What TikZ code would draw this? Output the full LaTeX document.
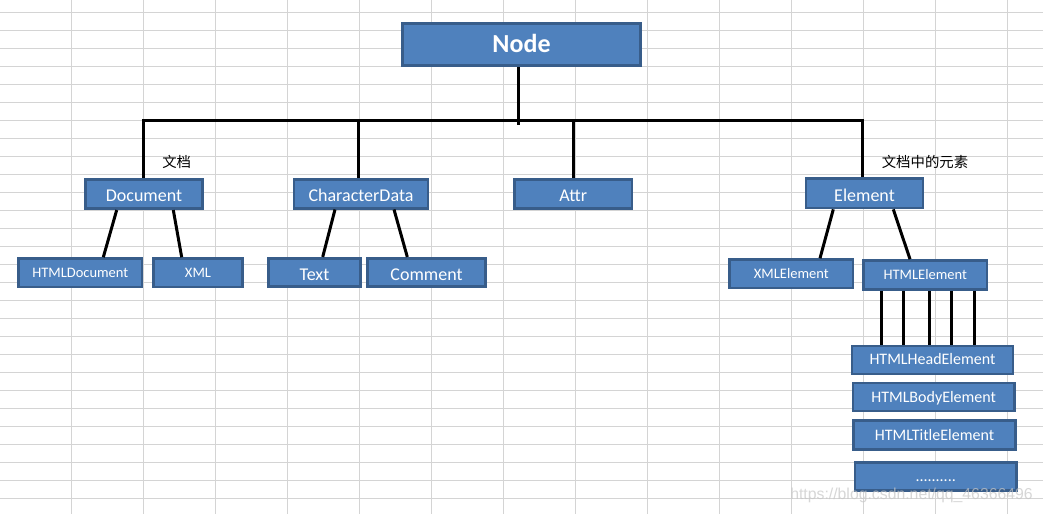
\documentclass[tikz,border=0pt]{standalone}
\usepackage{fontspec}
\setmainfont{Carlito}
\newfontfamily\cjk{Noto Sans CJK SC}
\newfontfamily\wmfont{Liberation Sans}
\definecolor{boxfill}{HTML}{4F81BD}
\definecolor{boxborder}{HTML}{385D8A}
\definecolor{gridgray}{HTML}{D4D4D4}
\tikzset{
  box/.style={rectangle, fill=boxfill, draw=boxborder, line width=2.6pt, text=white, inner sep=0pt, text depth=0pt},
  bigtext/.style={font=\fontsize{18}{22}\selectfont, text height=15.4pt},
  smalltext/.style={font=\fontsize{14.5}{17}\selectfont, text height=9.35pt},
  midtext/.style={font=\fontsize{16}{19}\selectfont, text height=10.3pt},
  link/.style={line width=3pt, draw=black},
  note/.style={inner sep=0pt, font=\cjk\fontsize{14.4}{16}\selectfont},
}
\begin{document}
\begin{tikzpicture}[x=1pt,y=-1pt]
\useasboundingbox (0,0) rectangle (1043,514);
\fill[white] (0,0) rectangle (1043,514);
% spreadsheet grid
\foreach \k in {0,...,13} \draw[gridgray, line width=1pt] (71.5+72*\k,0) -- (71.5+72*\k,514);
\foreach \k in {0,...,27} \draw[gridgray, line width=1pt] (0,12.3+18*\k) -- (1043,12.3+18*\k);

% level 1
\node[box, minimum width=238.5pt, minimum height=42.5pt, text height=16.7pt, font=\bfseries\fontsize{26}{30}\selectfont] (node) at (521.5,44.5) {Node};
% level 2
\node[box, bigtext, minimum width=117.5pt, minimum height=29.5pt] (doc) at (144,194) {Document};
\node[box, bigtext, minimum width=134pt, minimum height=29pt] (chd) at (361,193.7) {CharacterData};
\node[box, bigtext, minimum width=117.5pt, minimum height=29.5pt] (attr) at (573.3,194) {Attr};
\node[box, bigtext, minimum width=117pt, minimum height=29.5pt] (elem) at (864.5,193.3) {Element};
% level 3
\node[box, smalltext, minimum width=123.5pt, minimum height=28.5pt] (hdoc) at (80.3,272.8) {HTMLDocument};
\node[box, smalltext, minimum width=89pt, minimum height=28.5pt] (xml) at (198,272.8) {XML};
\node[box, bigtext, minimum width=92pt, minimum height=28.5pt] (text) at (314.5,272.5) {Text};
\node[box, bigtext, minimum width=118pt, minimum height=28.5pt] (comment) at (426.5,272.5) {Comment};
\node[box, smalltext, minimum width=123.5pt, minimum height=28.5pt] (xmlel) at (791.3,273.8) {XMLElement};
\node[box, smalltext, minimum width=123.5pt, minimum height=29pt] (htmlel) at (925.3,275) {HTMLElement};
% level 4
\node[box, midtext, minimum width=161pt, minimum height=28pt] (head) at (932.5,359.8) {HTMLHeadElement};
\node[box, midtext, minimum width=161.5pt, minimum height=28pt] (body) at (933.7,397) {HTMLBodyElement};
\node[box, midtext, minimum width=162pt, minimum height=29pt] (title) at (934.5,435) {HTMLTitleElement};
\node[box, midtext, minimum width=161.5pt, minimum height=28pt] (more) at (935.7,476.3) {..........};

% labels
\node[note] (ldoc) at (176.7,161.7) {文档};
\node[note] (lelem) at (925,161.7) {文档中的元素};

% bus
\coordinate (bus) at (0,120);
\draw[link, line join=miter] ([xshift=-1pt]doc.north) |- ([xshift=-1.8pt]elem.north |- bus) -- ([xshift=-1.8pt]elem.north);
\draw[link] ([xshift=-2.8pt]node.south) -- ([xshift=-2.8pt,yshift=-5pt]node.south |- bus);
\draw[link] ([xshift=-2.3pt]chd.north) -- ([xshift=-2.3pt]chd.north |- bus);
\draw[link] ([xshift=0.4pt]attr.north) -- ([xshift=0.4pt]attr.north |- bus);

% level 2 -> 3
\draw[link] ([xshift=-27.3pt]doc.south) -- ([xshift=23pt]hdoc.north);
\draw[link] ([xshift=29.3pt]doc.south) -- ([xshift=-16.3pt]xml.north);
\draw[link] ([xshift=-26pt]chd.south) -- ([xshift=8.2pt]text.north);
\draw[link] ([xshift=33pt]chd.south) -- ([xshift=-19.2pt]comment.north);
\draw[link] ([xshift=-31.2pt]elem.south) -- ([xshift=28.7pt]xmlel.north);
\draw[link] ([xshift=28.8pt]elem.south) -- ([xshift=-15.3pt]htmlel.north);

% HTMLElement -> HTMLHeadElement
\foreach \d in {-43.6,-22.3,3.7,26.4,48.7}
  \draw[link] ([xshift=\d pt]htmlel.south) -- ([xshift=\d pt]htmlel.south |- head.north);

% watermark
\node[inner sep=0pt, text=gray!45, opacity=0.7, font=\wmfont\fontsize{15.8}{18}\selectfont] (wm) at (911.5,495.7) {https://blog.csdn.net/qq\_46366496};
\end{tikzpicture}
\end{document}
